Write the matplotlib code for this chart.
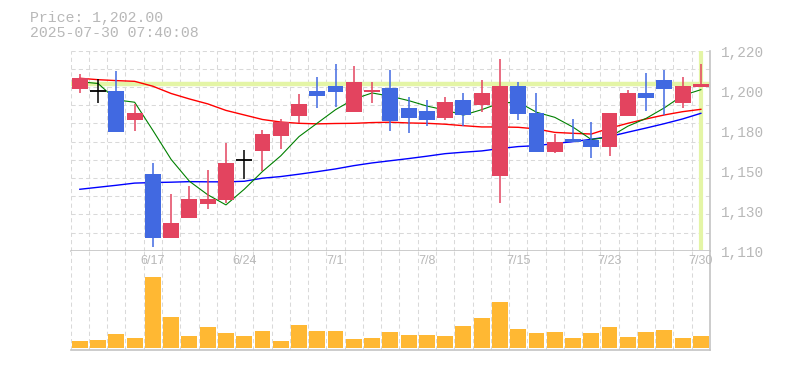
import matplotlib
matplotlib.use("Agg")
import matplotlib.pyplot as plt
import matplotlib.transforms as mtransforms
import numpy as np

# ---------------- data ----------------
dates = ["6/11", "6/12", "6/13", "6/16", "6/17", "6/18", "6/19", "6/20", "6/23",
         "6/24", "6/25", "6/26", "6/27", "6/30", "7/1", "7/2", "7/3", "7/4", "7/7",
         "7/8", "7/9", "7/10", "7/11", "7/14", "7/15", "7/16", "7/17", "7/18", "7/22",
         "7/23", "7/24", "7/25", "7/28", "7/29", "7/30"]
opens = [1199, 1198, 1198, 1182, 1152, 1117, 1128, 1135.5, 1138, 1160, 1165, 1173,
         1184, 1198, 1200.5, 1186.5, 1197.5, 1199.5, 1188.5, 1187, 1183, 1193, 1190,
         1151, 1200.5, 1186, 1164.5, 1171.5, 1171, 1167, 1184, 1197, 1204, 1191.5, 1200]
highs = [1207, 1204.5, 1209, 1191, 1158, 1141, 1145.5, 1154.5, 1169, 1165.5, 1176.5,
         1182.5, 1196, 1205.5, 1213, 1211.5, 1203, 1209.5, 1194.5, 1193, 1194.5, 1197,
         1204, 1215.5, 1203, 1197, 1174, 1182.5, 1181, 1186, 1198.5, 1208, 1209.5,
         1205.5, 1212.5]
lows = [1197, 1191.5, 1175.5, 1176, 1112, 1117, 1128, 1133, 1136.5, 1149.5, 1154,
        1166, 1180, 1188.5, 1189, 1186.5, 1191.5, 1176, 1174.5, 1178.5, 1182, 1178.5,
        1186.5, 1136.5, 1182, 1164.5, 1163.5, 1170, 1161, 1162, 1184, 1187, 1184.5,
        1188.5, 1200]
closes = [1205, 1198, 1175.5, 1186, 1117, 1125, 1138.5, 1138.5, 1158, 1160, 1174,
          1181, 1191, 1195, 1197.5, 1203, 1198.5, 1181.5, 1183, 1182, 1192, 1184.5,
          1197, 1200.5, 1185, 1164.5, 1170, 1170, 1167, 1186, 1197, 1194, 1199,
          1200.5, 1202]
ma_short = [1203, 1202, 1193, 1191.7, 1176.2, 1160.2, 1148.2, 1140.8, 1135.2, 1143.8,
            1153.6, 1162.2, 1172.8, 1180.2, 1187.6, 1193.4, 1196.8, 1195, 1192.6,
            1189.6, 1187.4, 1184.6, 1187.6, 1191.2, 1191.8, 1186.2, 1183.4, 1178,
            1171.2, 1172.5, 1178.5, 1182.8, 1188.6, 1195.4, 1198.6]
ma_mid = [1204.9, 1204.1, 1203.6, 1203.2, 1200.5, 1196.5, 1193.5, 1190.8, 1187.2,
          1184.7, 1182.2, 1180.8, 1180.1, 1179.8, 1180.0, 1180.1, 1180.5, 1180.7,
          1180.3, 1180.1, 1179.6, 1178.8, 1178.1, 1178.1, 1177.9, 1177.0, 1175.1,
          1174.6, 1174.2, 1177.4, 1180.1, 1182.5, 1184.7, 1186.5, 1187.8]
ma_long = [1143.8, 1144.9, 1146.0, 1147.2, 1147.5, 1147.7, 1148.0, 1147.9, 1147.9,
           1148.2, 1149.9, 1150.8, 1152.1, 1153.5, 1155.0, 1156.8, 1158.3, 1159.5,
           1160.7, 1162.0, 1163.4, 1164.2, 1164.9, 1166.2, 1167.3, 1167.8, 1169.0,
           1170.0, 1171.3, 1172.8, 1175.2, 1177.5, 1179.9, 1182.5, 1185.6]
volumes = [7.3, 8.3, 14.3, 10.3, 71.3, 31.3, 12.3, 21.3, 15.3, 12.3, 17.3, 7.3, 23.3,
           17.3, 17.3, 9.3, 10.3, 16.3, 13.3, 13.3, 12.3, 22.3, 30.3, 46.3, 19.3, 15.3,
           16.3, 10.3, 15.3, 21.3, 11.3, 16.3, 18.3, 10.3, 12.3]
price_ticks = [1110, 1132, 1154, 1176, 1198, 1220]
price_tick_labels = ["1,110", "1,130", "1,150", "1,180", "1,200", "1,220"]
date_label_idx = [4, 9, 14, 19, 24, 29, 34]
last_price = 1202
title_lines = ["Price: 1,202.00", "2025-07-30 07:40:08"]

# ---------------- style ----------------
UP = "#e3445f"
DOWN = "#4169e1"
VOLC = "#ffb833"
GRID = "#d9d9d9"
AXC = "#c4c4c4"
TXT = "#b8b8b8"
HILITE = "#e4f5a6"
W = 0.87

fig = plt.figure(figsize=(7.85, 3.70), dpi=100)
FW, FH = 785, 370
L, R = 70.7, 710.0
PT, PB = 50.8, 250.7
VB = 350.4

ax = fig.add_axes([L / FW, 1 - PB / FH, (R - L) / FW, (PB - PT) / FH])
axv = fig.add_axes([L / FW, 1 - VB / FH, (R - L) / FW, (VB - PB) / FH])

n = len(closes)
x = np.arange(n)

for a in (ax, axv):
    a.set_xlim(-0.5, n - 0.5)
    a.set_xticks(np.arange(-0.5, n - 1, 1.0))
    a.tick_params(axis="both", length=0, labelbottom=False, labelleft=False)
    a.grid(axis="x", color=GRID, linewidth=0.75, linestyle=(0, (4, 3)), zorder=0)
    a.set_axisbelow(True)
    for s in ("left", "top"):
        a.spines[s].set_visible(False)
    for s in ("right", "bottom"):
        a.spines[s].set_color(AXC)
        a.spines[s].set_linewidth(1.2)

ax.set_ylim(1110, 1220)
ax.set_yticks(np.arange(1110, 1221, 10))
ax.grid(axis="y", color=GRID, linewidth=0.75, linestyle=(0, (4, 3)), zorder=0)

# highlight lines for last price
ax.axhline(last_price, color=HILITE, linewidth=3.2, zorder=1)
ax.axvline(x[-1], ymin=0.012, ymax=1.0, color=HILITE, linewidth=3.0, zorder=1)

# moving averages
ax.plot(x, ma_long, color="#0000ff", linewidth=1.0, zorder=2)
ax.plot(x, ma_mid, color="#ff0000", linewidth=1.0, zorder=2)
ax.plot(x, ma_short, color="#008000", linewidth=0.8, zorder=2)

# candles
o = np.array(opens); c = np.array(closes); h = np.array(highs); lo = np.array(lows)
for i in range(n):
    if o[i] == c[i]:
        col = "black"
        ax.vlines(x[i], lo[i], h[i], color=col, linewidth=1.1, zorder=3)
        ax.hlines(c[i], x[i] - W / 2, x[i] + W / 2, color=col, linewidth=1.3, zorder=3)
        continue
    col = UP if c[i] > o[i] else DOWN
    ax.vlines(x[i], lo[i], h[i], color=col, linewidth=1.1, zorder=3)
    bottom = min(o[i], c[i])
    height = max(abs(c[i] - o[i]), 0.6)
    ax.bar(x[i], height, bottom=bottom, width=W, color=col, linewidth=0, zorder=4)

# volume
axv.set_ylim(-2.1, 97.6)
axv.set_yticks([])
axv.bar(x, volumes, width=W, color=VOLC, linewidth=0, zorder=2)

# right price labels
trans = mtransforms.blended_transform_factory(ax.transAxes, ax.transData)
for v, lab in zip(price_ticks, price_tick_labels):
    t = mtransforms.offset_copy(trans, fig=fig, x=10.5, y=-2.0, units="dots")
    ax.text(1.0, v, lab, transform=t, ha="left", va="center", color=TXT,
            fontsize=10.4, family="Liberation Mono")

# date labels
transv = mtransforms.blended_transform_factory(axv.transData, axv.transAxes)
for i in date_label_idx:
    axv.text(x[i], 1 - 10.5 / (VB - PB), dates[i], transform=transv, ha="center",
             va="center", color=TXT, fontsize=9, family="Liberation Sans", zorder=5)

# title
fig.text(30 / FW, 1 - 18 / FH, title_lines[0], ha="left", va="center", color=TXT,
         fontsize=10.7, family="Liberation Mono")
fig.text(30 / FW, 1 - 33 / FH, title_lines[1], ha="left", va="center", color=TXT,
         fontsize=10.7, family="Liberation Mono")

fig.savefig("out.png", dpi=100, facecolor="white")
